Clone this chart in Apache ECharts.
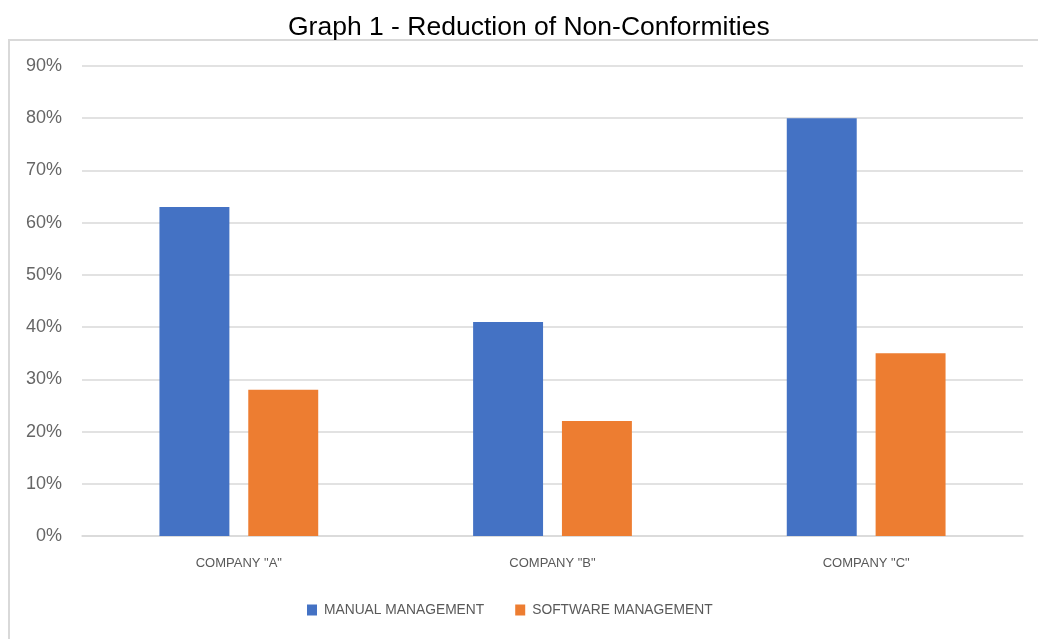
<!DOCTYPE html>
<html>
<head>
<meta charset="utf-8">
<script src="https://cdn.jsdelivr.net/npm/echarts@6/dist/echarts.min.js"></script>
<style>html,body{margin:0;padding:0;background:#fff;}#c{width:1038px;height:639px;}</style>
</head>
<body>
<div id="c"></div>
<script>
const categories = ['COMPANY "A"', 'COMPANY "B"', 'COMPANY "C"'];
const manualValues = [63, 41, 80];
const softwareValues = [28, 22, 35];
const seriesNames = ['MANUAL MANAGEMENT', 'SOFTWARE MANAGEMENT'];
const titleText = 'Graph 1 - Reduction of Non-Conformities';

const chart = echarts.init(document.getElementById('c'), null, {renderer: 'canvas'});
chart.setOption({
  animation: false,
  backgroundColor: '#fff',
  title: {
    text: titleText,
    left: 283,
    top: 9,
    textStyle: {fontFamily: 'Liberation Sans, Arial', fontSize: 26.5, fontWeight: 'normal', color: '#000'}
  },
  graphic: [{
    type: 'rect',
    shape: {x: 9, y: 40, width: 1040, height: 620},
    style: {fill: 'none', stroke: '#d9d9d9', lineWidth: 2},
    silent: true,
    z: -1
  }],
  legend: {
    bottom: 17,
    left: 302,
    itemWidth: 10,
    itemHeight: 11,
    itemGap: 31,
    icon: 'rect',
    textStyle: {fontFamily: 'Liberation Sans, Arial', fontSize: 13.8, color: '#595959', padding: [0, 0, 0, 2]},
    data: seriesNames
  },
  grid: {left: 82, right: 15, top: 66, bottom: 103, containLabel: false},
  xAxis: {
    type: 'category',
    data: categories,
    axisLine: {lineStyle: {color: '#d9d9d9', width: 1.5}},
    axisTick: {show: false},
    axisLabel: {margin: 21, fontFamily: 'Liberation Sans, Arial', fontSize: 13, color: '#595959'}
  },
  yAxis: {
    type: 'value',
    min: 0,
    max: 90,
    interval: 10,
    axisLine: {show: false},
    axisTick: {show: false},
    splitLine: {lineStyle: {color: '#d9d9d9', width: 1.5}},
    axisLabel: {margin: 20, formatter: '{value}%', fontFamily: 'Liberation Sans, Arial', fontSize: 18, color: '#666666'}
  },
  series: [
    {name: seriesNames[0], type: 'bar', data: manualValues, barWidth: '22.3%', barGap: '27%', itemStyle: {color: '#4472c4'}},
    {name: seriesNames[1], type: 'bar', data: softwareValues, barWidth: '22.3%', barGap: '27%', itemStyle: {color: '#ed7d31'}}
  ]
});
</script>
</body>
</html>
